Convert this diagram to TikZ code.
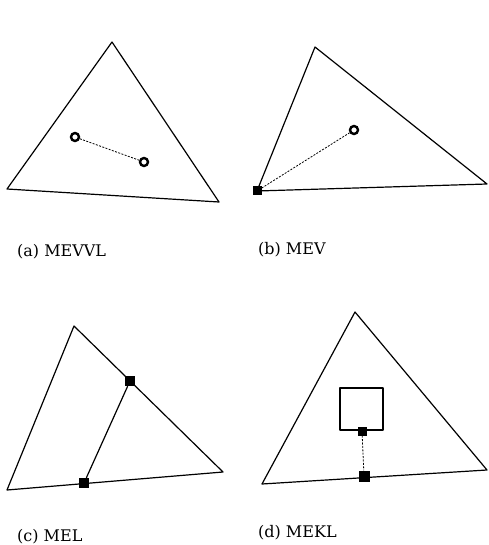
\documentclass[tikz,border=0pt]{standalone}
\usepackage{fontspec}
\newfontfamily\capfont{DejaVu Serif}
\begin{document}
\begin{tikzpicture}[
    x=1pt, y=-1pt,
    edge/.style={line width=1.2pt, line join=round},
    link/.style={line width=0.8pt, dash pattern=on 2pt off 1.4pt},
    ring/.style={circle, draw, line width=2.4pt, minimum size=8pt, inner sep=0pt},
    pin/.style={rectangle, fill=black, minimum size=9pt, inner sep=0pt},
    lbl/.style={font=\capfont\fontsize{16}{18}\selectfont, anchor=west, inner sep=0pt},
]
\useasboundingbox (0,0) rectangle (488,545);

% (a) MEVVL
\coordinate (a1) at (112, 42);
\coordinate (a2) at (  7,189);
\coordinate (a3) at (219,202);
\draw[edge] (a1) -- (a2) -- (a3) -- cycle;
\node[ring] (av) at ( 75,137) {};
\node[ring] (aw) at (144,162) {};
\draw[link] (av) -- (aw);
\node[lbl] (alab) at (17,252) {(a) MEVVL};

% (b) MEV
\coordinate (b1) at (315, 47);
\coordinate (b2) at (257,191);
\coordinate (b3) at (487,184);
\draw[edge] (b1) -- (b2) -- (b3) -- cycle;
\node[pin] (bp) at (b2) {};
\node[ring] (bv) at (354,130) {};
\draw[link] (bp) -- (bv);
\node[lbl] (blab) at (258,250) {(b) MEV};

% (c) MEL
\coordinate (c1) at ( 74,326);
\coordinate (c2) at (  7,490);
\coordinate (c3) at (223,472);
\draw[edge] (c1) -- (c2) -- (c3) -- cycle;
\node[pin, minimum size=10pt] (cp) at (130,381) {};
\node[pin, minimum size=10pt] (cq) at ( 84,483) {};
\draw[edge] (cp) -- (cq);
\node[lbl] (clab) at (17,537) {(c) MEL};

% (d) MEKL
\coordinate (d1) at (355,312);
\coordinate (d2) at (262,484);
\coordinate (d3) at (487,470);
\draw[edge] (d1) -- (d2) -- (d3) -- cycle;
\coordinate (d4) at (340,388);
\coordinate (d5) at (383,430);
\draw[edge] (d4) rectangle (d5);
\node[pin] (dp) at (362,431) {};
\node[pin, minimum size=11pt] (dq) at (364,476) {};
\draw[link] (dp) -- (dq);
\node[lbl] (dlab) at (258,533) {(d) MEKL};

\end{tikzpicture}
\end{document}
